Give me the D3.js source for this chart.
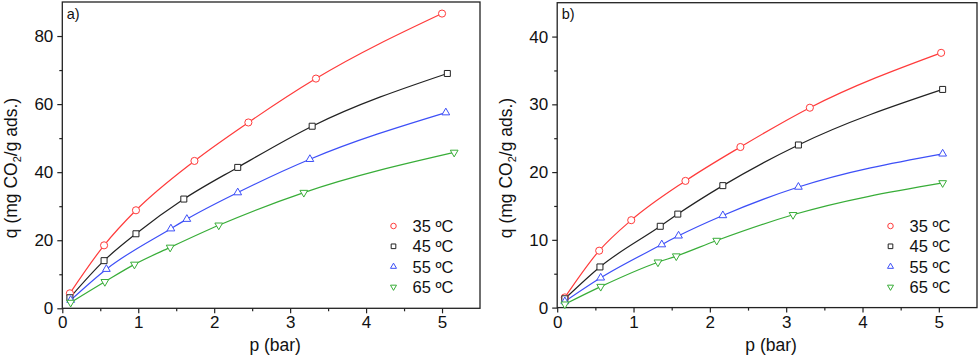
<!DOCTYPE html>
<html>
<head>
<meta charset="utf-8">
<script src="https://cdn.jsdelivr.net/npm/d3@7"></script>
<style>
    body { margin: 0; background: #fff; }
    svg { display: block; font-family: "Liberation Sans", Arial, sans-serif; }
</style>
</head>
<body>
<svg id="chart" width="980" height="358"></svg>
<script>
'use strict';

// series labels and styles order
var temps = ["35 ºC", "45 ºC", "55 ºC", "65 ºC"];

// panel a) pressure (bar) / uptake (mg CO2/g ads.)
var aP35 = [0.10, 0.55, 0.97, 1.74, 2.45, 3.34, 5.00],
    aQ35 = [4.4, 18.5, 28.8, 43.3, 54.6, 67.5, 86.6],
    aP45 = [0.10, 0.55, 0.97, 1.60, 2.31, 3.29, 5.07],
    aQ45 = [3.1, 14.0, 21.9, 32.1, 41.4, 53.5, 69.0],
    aP55 = [0.11, 0.58, 1.43, 1.64, 2.31, 3.26, 5.05],
    aQ55 = [2.4, 11.5, 23.4, 26.2, 34.0, 43.8, 57.5],
    aP65 = [0.11, 0.56, 0.95, 1.42, 2.06, 3.18, 5.16],
    aQ65 = [1.7, 7.8, 12.9, 17.9, 24.4, 34.0, 45.8];

// panel b)
var bP35 = [0.10, 0.55, 0.97, 1.68, 2.40, 3.31, 5.03],
    bQ35 = [1.5, 8.4, 12.9, 18.7, 23.7, 29.5, 37.6],
    bP45 = [0.10, 0.56, 1.35, 1.58, 2.17, 3.16, 5.05],
    bQ45 = [1.3, 6.0, 12.0, 13.8, 18.0, 24.0, 32.2],
    bP55 = [0.10, 0.57, 1.37, 1.59, 2.17, 3.16, 5.05],
    bQ55 = [0.9, 4.4, 9.3, 10.6, 13.6, 17.8, 22.7],
    bP65 = [0.10, 0.57, 1.32, 1.56, 2.09, 3.09, 5.05],
    bQ65 = [0.5, 3.1, 6.7, 7.6, 9.9, 13.7, 18.4];

var xTicks  = [0, 1, 2, 3, 4, 5],
    aYTicks = [0, 20, 40, 60, 80],
    bYTicks = [0, 10, 20, 30, 40];

var colors  = ["#ff3b3b", "#222222", "#3d4ff7", "#38ad38"],
    symbols = [d3.symbolCircle, d3.symbolSquare, d3.symbolTriangle, d3.symbolTriangle],
    sizes   = [40, 36, 26, 26],
    rotate  = [0, 0, 0, 180];

function zip(px, qy) {
    return px.map(function(p, i){ return [p, qy[i]]; });
}

var svg = d3.select("#chart");

function Panel(cfg) {
    var g = svg.append("g");
    var x = d3.scaleLinear().domain([0, 5.5]).range([cfg.left, cfg.right]),
        y = d3.scaleLinear().domain(cfg.yDomain).range([cfg.bottom, cfg.top]);

    // minor ticks halfway between the major ones
    var xMinor = d3.range(0.5, 5.5, 1),
        step   = cfg.yTicks[1],
        yMinor = cfg.yTicks.map(function(t){ return t + step/2; })
                 .filter(function(t){ return t < cfg.yDomain[1]; });

    var xAxis = d3.axisBottom(x).tickValues(xTicks).tickSize(5).tickPadding(3).tickFormat(d3.format("d"));
    var xAxisMinor = d3.axisBottom(x).tickValues(xMinor).tickSize(3).tickFormat("");
    var yAxis = d3.axisLeft(y).tickValues(cfg.yTicks).tickSize(5).tickPadding(4).tickFormat(d3.format("d"));
    var yAxisMinor = d3.axisLeft(y).tickValues(yMinor).tickSize(3).tickFormat("");

    [xAxis, xAxisMinor].forEach(function(ax){
        g.append("g").attr("transform", "translate(0," + cfg.bottom + ")").call(ax);
    });
    [yAxis, yAxisMinor].forEach(function(ax){
        g.append("g").attr("transform", "translate(" + cfg.left + ",0)").call(ax);
    });
    g.selectAll(".domain").remove();
    g.selectAll(".tick line").attr("stroke", "#222").attr("stroke-width", 1.2);
    g.selectAll(".tick text").attr("fill", "#111").style("font-size", "17px");

    // frame
    g.append("rect")
        .attr("x", cfg.left).attr("y", cfg.top)
        .attr("width", cfg.right - cfg.left).attr("height", cfg.bottom - cfg.top)
        .attr("fill", "none").attr("stroke", "#222").attr("stroke-width", 1.3);

    // curves + markers
    var line = d3.line()
        .x(function(d){ return x(d[0]); })
        .y(function(d){ return y(d[1]); })
        .curve(d3.curveMonotoneX);

    cfg.series.forEach(function(s, i){
        g.append("path").datum(s)
            .attr("d", line)
            .attr("fill", "none")
            .attr("stroke", colors[i])
            .attr("stroke-width", 1.2);
    });
    cfg.series.forEach(function(s, i){
        var sym = d3.symbol().type(symbols[i]).size(sizes[i]);
        g.selectAll(null).data(s).enter().append("path")
            .attr("d", sym)
            .attr("transform", function(d){
                return "translate(" + x(d[0]) + "," + y(d[1]) + ") rotate(" + rotate[i] + ")";
            })
            .attr("fill", "#fff")
            .attr("stroke", colors[i])
            .attr("stroke-width", 1);
    });

    // panel label
    g.append("text")
        .attr("x", cfg.left + 4.5).attr("y", cfg.top + 16.5)
        .style("font-size", "14.5px").attr("fill", "#111")
        .text(cfg.label);

    // legend
    temps.forEach(function(t, i){
        var ly = 226 + i * 20.3;
        var sym = d3.symbol().type(symbols[i]).size(sizes[i] * 0.6);
        g.append("path")
            .attr("d", sym)
            .attr("transform", "translate(" + (cfg.right - 86.5) + "," + ly + ") rotate(" + rotate[i] + ")")
            .attr("fill", "#fff").attr("stroke", colors[i]).attr("stroke-width", 1);
        g.append("text")
            .attr("x", cfg.right - 67.5).attr("y", ly + 6)
            .style("font-size", "16.5px").attr("fill", "#111")
            .text(t);
    });

    // axis titles
    g.append("text")
        .attr("x", (cfg.left + cfg.right) / 2 + 4).attr("y", 351)
        .attr("text-anchor", "middle")
        .style("font-size", "17.5px").attr("fill", "#111")
        .text("p (bar)");

    var yt = g.append("text")
        .attr("transform", "translate(" + (cfg.left - 45) + ",168) rotate(-90)")
        .attr("text-anchor", "middle")
        .style("font-size", "17.5px").attr("fill", "#111");
    yt.append("tspan").text("q (mg CO");
    yt.append("tspan").attr("dy", 4).style("font-size", "11px").text("2");
    yt.append("tspan").attr("dy", -4).text("/g ads.)");
}

Panel({
    label: "a)",
    left: 62.3, right: 480, top: 2, bottom: 308.3,
    yDomain: [0, 90], yTicks: aYTicks,
    series: [zip(aP35, aQ35), zip(aP45, aQ45), zip(aP55, aQ55), zip(aP65, aQ65)]
});

Panel({
    label: "b)",
    left: 557.2, right: 977, top: 2.7, bottom: 307.6,
    yDomain: [0, 45], yTicks: bYTicks,
    series: [zip(bP35, bQ35), zip(bP45, bQ45), zip(bP55, bQ55), zip(bP65, bQ65)]
});
</script>
</body>
</html>
